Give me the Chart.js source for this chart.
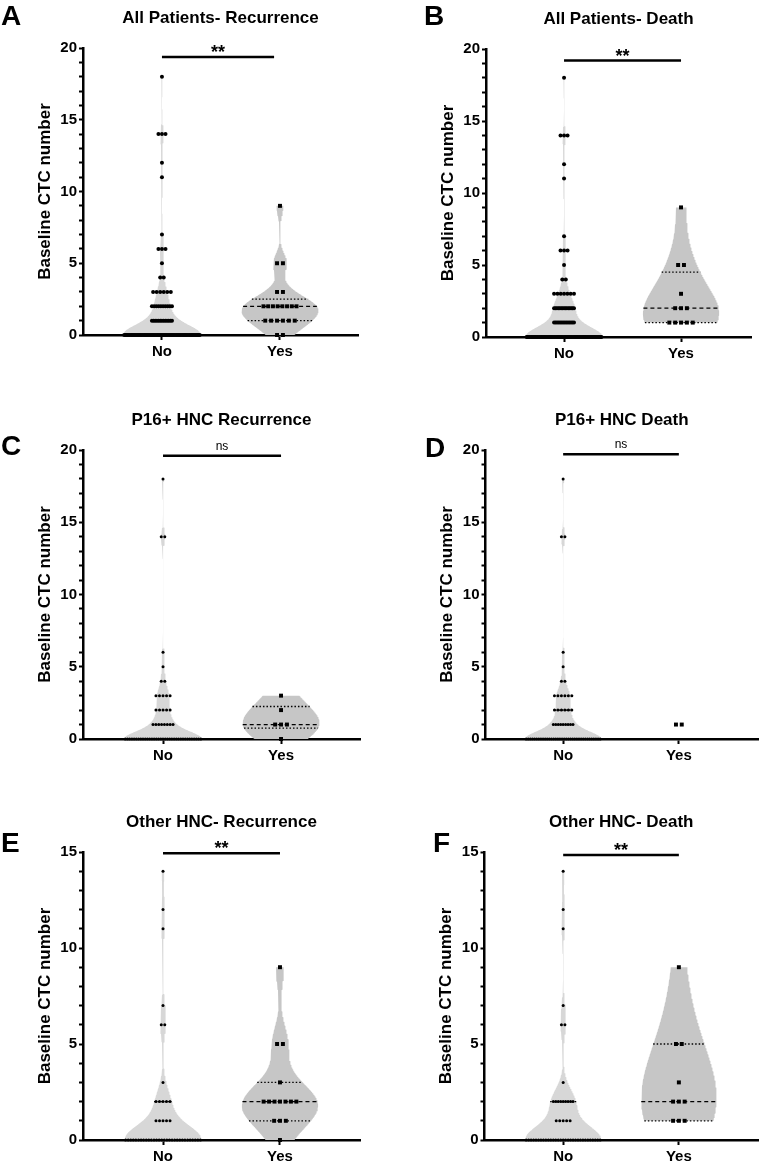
<!DOCTYPE html>
<html><head><meta charset="utf-8">
<script src="https://cdn.jsdelivr.net/npm/chart.js@4.4.1/dist/chart.umd.min.js"></script>
<style>
html,body{margin:0;padding:0;background:#fff;overflow:hidden;width:762px;height:1164px;position:relative;}
canvas{position:absolute;}
</style></head><body>
<canvas id="cA"></canvas><canvas id="cB"></canvas><canvas id="cC"></canvas>
<canvas id="cD"></canvas><canvas id="cE"></canvas><canvas id="cF"></canvas>
<script>
// ---------------- data ----------------
const categories = ['No', 'Yes'];
const ctcLevels   = [0, 1, 2, 3, 4, 5, 6, 7, 9, 11, 12, 14, 18];
// number of patients at each CTC level
const allRecNo    = [65,13,10, 6, 2, 1, 3, 1, 0, 1, 1, 3, 1];
const allRecYes   = [ 2, 6, 8, 2, 0, 2, 0, 0, 1, 0, 0, 0, 0];
const allDeathNo  = [67,14,15, 7, 2, 1, 3, 1, 0, 1, 1, 3, 1];
const allDeathYes = [ 0, 5, 3, 1, 0, 2, 0, 0, 1, 0, 0, 0, 0];
const p16RecNo    = [35, 8, 5, 5, 2, 1, 1, 0, 0, 0, 0, 2, 1];
const p16RecYes   = [ 1, 3, 1, 1, 0, 0, 0, 0, 0, 0, 0, 0, 0];
const p16DeathNo  = [36, 9, 6, 6, 2, 1, 1, 0, 0, 0, 0, 2, 1];
const p16DeathYes = [ 0, 2, 0, 0, 0, 0, 0, 0, 0, 0, 0, 0, 0];
const othRecNo    = [30, 5, 5, 1, 0, 0, 2, 1, 0, 1, 1, 1, 0];
const othRecYes   = [ 1, 3, 7, 1, 0, 2, 0, 0, 1, 0, 0, 0, 0];
const othDeathNo  = [31, 5, 9, 1, 0, 0, 2, 1, 0, 1, 1, 1, 0];
const othDeathYes = [ 0, 3, 3, 1, 0, 2, 0, 0, 1, 0, 0, 0, 0];
const panelTitles  = ['All Patients- Recurrence', 'All Patients- Death', 'P16+ HNC Recurrence',
                      'P16+ HNC Death', 'Other HNC- Recurrence', 'Other HNC- Death'];
const panelLetters = ['A', 'B', 'C', 'D', 'E', 'F'];
const sigLabels    = ['**', '**', 'ns', 'ns', '**', '**'];
const yMaxes       = [20, 20, 20, 20, 15, 15];
const yAxisTitle   = 'Baseline CTC number';

const groupsNo  = [allRecNo, allDeathNo, p16RecNo, p16DeathNo, othRecNo, othDeathNo];
const groupsYes = [allRecYes, allDeathYes, p16RecYes, p16DeathYes, othRecYes, othDeathYes];

// ---------------- layout / style (not data) ----------------
const FONT = '"Liberation Sans", Arial, sans-serif';
const frames = [
  {id:'cA', left:0,   top:0,   w:381, h:367, padL:31,   padR:23, xMin:-0.669, xMax:1.661, barEnd:0.95, barY:19.37, lx:1,  ly:25, bwNo:1.2,  bwYes:1.25, dotR:2},
  {id:'cB', left:381, top:1,   w:381, h:368, padL:53,   padR:11, xMin:-0.667, xMax:1.598, barEnd:1,    barY:19.2,  lx:43, ly:24, bwNo:1.2,  bwYes:1.3,  dotR:2},
  {id:'cC', left:0,   top:402, w:381, h:369, padL:31,   padR:21, xMin:-0.678, xMax:1.669, barEnd:1,    barY:19.6,  lx:1,  ly:53, bwNo:0.85, bwYes:1.6,  dotR:1.5},
  {id:'cD', left:381, top:402, w:381, h:369, padL:52.5, padR:1,  xMin:-0.671, xMax:1.684, barEnd:1,    barY:19.7,  lx:44, ly:55, bwNo:0.85, bwYes:1.0,  dotR:1.5},
  {id:'cE', left:0,   top:804, w:381, h:368, padL:31,   padR:21, xMin:-0.684, xMax:1.684, barEnd:1,    barY:14.93, lx:1,  ly:48, bwNo:1.1,  bwYes:1.25, dotR:1.5},
  {id:'cF', left:381, top:804, w:381, h:368, padL:51.5, padR:1,  xMin:-0.68,  xMax:1.684, barEnd:1,    barY:14.84, lx:52, ly:48, bwNo:1.1,  bwYes:1.7,  dotR:1.5},
];
const HALF_MAX = 0.326;   // violin half width (x units)

// ---------------- helpers ----------------
function expand(counts){ const v=[]; counts.forEach((n,i)=>{ for(let k=0;k<n;k++) v.push(ctcLevels[i]); }); return v.sort((a,b)=>a-b); }
function quantile(s,p){ const n=s.length; const pos=p*(n+1); if(pos<=1) return s[0]; if(pos>=n) return s[n-1]; const lo=Math.floor(pos); return s[lo-1]+(pos-lo)*(s[lo]-s[lo-1]); }
function bandwidth(v){
  const n=v.length, mean=v.reduce((a,b)=>a+b,0)/n;
  const sd=Math.sqrt(v.reduce((a,b)=>a+(b-mean)*(b-mean),0)/(n-1));
  const iqr=quantile(v,0.75)-quantile(v,0.25);
  let s=Math.min(sd, iqr/1.34); if(!(s>0)) s=sd;
  return 0.9*s*Math.pow(n,-0.2);
}
function dens(v,h,y){ let s=0; for(const x of v){ const z=(y-x)/h; s+=Math.exp(-0.5*z*z); } return s; }
function violin(v,cx,k){
  const lo=v[0], hi=v[v.length-1]; if(hi<=lo) return null;
  const h=bandwidth(v)*k;
  const ys=[]; for(let y=lo;y<hi;y+=0.02) ys.push(y); ys.push(hi);
  const d=ys.map(y=>dens(v,h,y)); const dmax=Math.max(...d);
  const right=ys.map((y,i)=>({x:cx+HALF_MAX*d[i]/dmax, y}));
  const left=ys.map((y,i)=>({x:cx-HALF_MAX*d[i]/dmax, y})).reverse();
  return {pts:right.concat(left), width:y=>HALF_MAX*dens(v,h,y)/dmax};
}
function dots(counts,cx,pitch,cap){
  const pts=[];
  counts.forEach((n,i)=>{
    if(!n) return;
    const y=ctcLevels[i];
    const w=Math.min((n-1)*pitch, n>=20?0.64:cap);
    for(let k=0;k<n;k++) pts.push({x: n===1?cx:cx-w/2+w*k/(n-1), y});
  });
  return pts;
}

const decor = {
  id:'decor',
  afterDraw(chart,args,o){
    const ctx=chart.ctx; ctx.save(); ctx.fillStyle='#000';
    ctx.textAlign='left'; ctx.textBaseline='alphabetic';
    ctx.font='bold 28px '+FONT; ctx.fillText(o.letter,o.lx,o.ly);
    const cx=chart.scales.x.getPixelForValue(o.barEnd/2), by=chart.scales.y.getPixelForValue(o.barY);
    ctx.textAlign='center';
    if(o.sig==='ns'){ ctx.font='12px '+FONT; ctx.fillText(o.sig,cx,by-6); }
    else { ctx.font='bold 18px '+FONT; ctx.fillText(o.sig,cx,by+1); }
    ctx.restore();
  }
};

frames.forEach((f,pi)=>{
  const cv=document.getElementById(f.id);
  cv.width=f.w; cv.height=f.h;
  cv.style.left=f.left+'px'; cv.style.top=f.top+'px';
  cv.style.width=f.w+'px'; cv.style.height=f.h+'px';
  const datasets=[];
  const groups=[
    {counts:groupsNo[pi],  cx:0, color:'#d7d7d7', style:'circle', r:f.dotR, pitch:0.03, cap:0.17, k:f.bwNo},
    {counts:groupsYes[pi], cx:1, color:'#c6c6c6', style:'rect',   r:2.8,    pitch:0.05, cap:0.28, k:f.bwYes}
  ];
  groups.forEach(g=>{
    const v=expand(g.counts);
    const vio=violin(v,g.cx,g.k);
    if(vio){
      datasets.push({data:vio.pts, backgroundColor:g.color, borderColor:'rgba(0,0,0,0)', borderWidth:1,
        pointRadius:0, fill:'shape', order:3, tension:0});
      [0.25,0.5,0.75].forEach(p=>{
        const q=quantile(v,p), w=vio.width(q);
        datasets.push({data:[{x:g.cx-w,y:q},{x:g.cx+w,y:q}], borderColor:'#000', borderWidth:1.3,
          borderDash: p===0.5?[4,3]:[1.5,2], pointRadius:0, fill:false, order:2, clip:false});
      });
    }
    datasets.push({data:dots(g.counts,g.cx,g.pitch,g.cap), showLine:false, pointStyle:g.style,
      pointRadius:g.r, pointBackgroundColor:'#000', pointBorderWidth:0, order:0, clip:false});
  });
  datasets.push({data:[{x:0,y:f.barY},{x:f.barEnd,y:f.barY}], borderColor:'#000', borderWidth:2.5,
    pointRadius:0, fill:false, order:0, clip:false});

  new Chart(cv,{
    type:'line',
    data:{datasets},
    options:{
      responsive:false, maintainAspectRatio:false, animation:false, events:[],
      layout:{padding:{top:0,bottom:4,left:f.padL,right:f.padR}},
      plugins:{
        legend:{display:false}, tooltip:{enabled:false},
        title:{display:true, text:panelTitles[pi], fullSize:false, color:'#000',
          font:{family:FONT,size:17,weight:'bold',lineHeight:1.2}, padding:{top:8,bottom:19.6}},
        decor:{letter:panelLetters[pi], sig:sigLabels[pi], lx:f.lx, ly:f.ly, barEnd:f.barEnd, barY:f.barY}
      },
      scales:{
        x:{type:'linear', min:f.xMin, max:f.xMax,
          afterBuildTicks:s=>{ s.ticks=[{value:0},{value:1}]; },
          afterFit:s=>{ s.height=28; },
          ticks:{callback:v=>categories[v]??'', autoSkip:false, maxRotation:0, color:'#000', padding:3,
            font:{family:FONT,size:15,weight:'bold'}},
          grid:{display:true, drawOnChartArea:false, drawTicks:true, tickLength:5, tickWidth:2, tickColor:'#000'},
          border:{display:true, color:'#000', width:2.5}},
        y:{type:'linear', min:0, max:yMaxes[pi],
          afterFit:s=>{ s.width=52; },
          ticks:{stepSize:1, autoSkip:false, color:'#000', padding:2,
            callback:v=>(v%5===0?String(v):''), font:{family:FONT,size:15,weight:'bold'}},
          grid:{display:true, drawOnChartArea:false, drawTicks:true, tickLength:4, tickWidth:2, tickColor:'#000'},
          border:{display:true, color:'#000', width:2.5},
          title:{display:true, text:yAxisTitle, color:'#000', padding:{top:4,bottom:4},
            font:{family:FONT,size:17,weight:'bold',lineHeight:1.2}}}
      }
    },
    plugins:[decor]
  });
});
</script>
</body></html>
